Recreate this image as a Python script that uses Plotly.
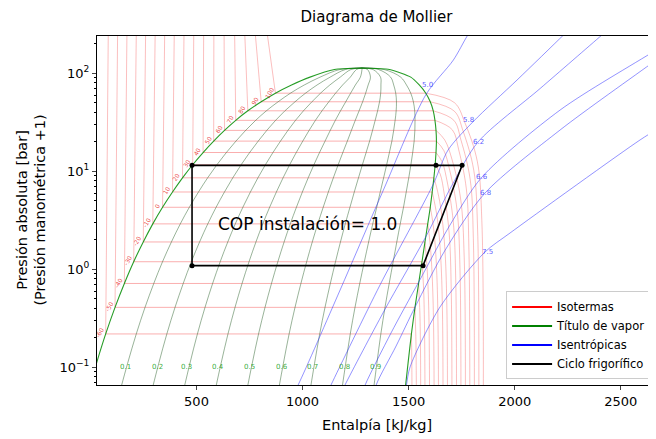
import math
import plotly.graph_objects as go

# ---------------- data ----------------
# saturation curve (triple point ... critical point)
T_sat = [-77.7, -70, -60, -50, -40, -30, -20, -10, 0, 10, 20, 30, 40, 50, 60, 70, 80, 90, 100, 110, 120, 130, 132.25]
P_sat = [0.0609, 0.109, 0.219, 0.409, 0.717, 1.195, 1.901, 2.907, 4.294, 6.150, 8.575, 11.67, 15.55,
         20.33, 26.15, 33.12, 41.42, 51.21, 62.68, 76.0, 91.4, 109.3, 113.3]
h_liq = [-6, 28, 72, 116, 160, 204, 249, 294, 340, 387, 434, 482, 531, 581, 632, 685, 742, 805, 872, 948, 1035, 1150, 1280]
h_vap = [1484, 1497, 1513, 1530, 1547, 1563, 1577, 1590, 1602, 1611, 1619, 1625, 1629, 1631, 1629, 1624, 1616,
         1602, 1581, 1550, 1510, 1410, 1280]

# isotherms (-60 ... 100 °C)
T_iso = [-60, -50, -40, -30, -20, -10, 0, 10, 20, 30, 40, 50, 60, 70, 80, 90, 100]
P_iso_sat = [0.219, 0.409, 0.717, 1.195, 1.901, 2.907, 4.294, 6.150, 8.575, 11.67, 15.55, 20.33, 26.15,
             33.12, 41.42, 51.21, 62.68]
h_iso_liq = [72, 116, 160, 204, 249, 294, 340, 387, 434, 482, 531, 581, 632, 685, 742, 805, 872]
h_iso_vap = [1513, 1530, 1547, 1563, 1577, 1590, 1602, 1611, 1619, 1625, 1629, 1631, 1629, 1624, 1616, 1602, 1581]
P_liq_top = [240, 300]
h_iso_top = [84, 128, 172, 216, 260, 305, 350, 395, 441, 487, 534, 582, 630, 680, 728, 778, 835]
# superheated branch: enthalpy at P_sat*0.8, *0.5, *0.2, *0.05 and at 0.01 bar
P_sh_frac = [0.8, 0.5, 0.2, 0.05]
P_sh_low = 0.01
h_iso_sh = [
    [1514, 1515, 1516, 1517, 1517], [1531, 1534, 1536, 1537, 1537], [1549, 1553, 1556, 1557, 1558],
    [1566, 1571, 1575, 1577, 1578], [1581, 1588, 1595, 1598, 1599], [1596, 1605, 1614, 1619, 1620],
    [1610, 1622, 1633, 1639, 1641], [1621, 1637, 1652, 1660, 1662], [1632, 1651, 1670, 1680, 1683],
    [1649, 1668, 1691, 1701, 1704], [1658, 1682, 1710, 1722, 1725], [1666, 1694, 1728, 1742, 1746],
    [1670, 1705, 1745, 1762, 1767], [1706, 1736, 1772, 1784, 1788], [1713, 1747, 1790, 1805, 1809],
    [1716, 1757, 1807, 1825, 1830], [1716, 1765, 1824, 1845, 1851],
]

# vapour quality lines
x_quality = [0.1, 0.2, 0.3, 0.4, 0.5, 0.6, 0.7, 0.8, 0.9]
x_label_h = [163, 314, 455, 601, 752, 903, 1045, 1196, 1342]
x_label_P = 0.1

# isentropes
s_values = ["5.0", "5.8", "6.2", "6.6", "6.8", "7.5"]
s_h = [
    [1808, 1776, 1711, 1582, 1381, 1177, 979, 941],
    [2302, 2230, 2011, 1804, 1686, 1615, 1365, 1134, 1101],
    [2492, 2411, 2120, 1827, 1705, 1582, 1384, 1200, 1167],
    [2893, 2667, 2214, 1846, 1695, 1549, 1417, 1295, 1271],
    [2926, 2667, 2214, 1860, 1672, 1530, 1441, 1347, 1332],
    [2940, 2667, 2591, 1978, 1860, 1648, 1507, 1490, 1483],
]
s_P = [
    [300, 240, 136.7, 60.9, 6.44, 0.615, 0.066, 0.0464],
    [350, 245.9, 85.4, 32.1, 16.5, 7.30, 0.691, 0.066, 0.0464],
    [350, 245.9, 70.0, 19.9, 7.25, 2.17, 0.375, 0.066, 0.0464],
    [350, 172.9, 42.2, 8.75, 2.83, 0.752, 0.224, 0.066, 0.0464],
    [350, 136.7, 26.4, 6.0, 1.567, 0.411, 0.165, 0.066, 0.0464],
    [53.4, 26.4, 20.9, 2.346, 1.501, 0.413, 0.101, 0.066, 0.0464],
]
s_label_h = [1587, 1780, 1827, 1845, 1860, 1870]
s_label_P = [76, 33.4, 19.9, 8.8, 6.0, 1.5]

# refrigeration cycle
cycle_h = [1568, 1752, 1629, 479, 479, 1568]
cycle_P = [1.09, 11.5, 11.5, 11.5, 1.09, 1.09]
cop_text = "COP instalación= 1.0"
cop_h, cop_P = 1021, 2.9

x_ticks = [500, 1000, 1500, 2000, 2500]
y_ticks = [0.1, 1, 10, 100]
y_ticktext = ["10<sup>\u22121</sup>", "10<sup>0</sup>", "10<sup>1</sup>", "10<sup>2</sup>"]
x_range = [31, 2666]
y_range_log = [-1.1806, 2.3806]

# ---------------- styling ----------------
RED = "rgba(240,0,0,0.32)"
GREEN_DOME = "rgba(0,140,0,0.85)"
GREEN_Q = "rgba(20,80,20,0.55)"
BLUE = "rgba(40,40,255,0.5)"
FONT = "DejaVu Sans"

fig = go.Figure()

# isotherms: liquid part
lx, ly = [], []
for i in range(len(T_iso)):
    lx += [h_iso_top[i], h_iso_top[i], h_iso_liq[i], None]
    ly += [P_liq_top[1], P_liq_top[0], P_iso_sat[i], None]
fig.add_trace(go.Scatter(x=lx, y=ly, mode="lines", line=dict(color=RED, width=0.8),
                         showlegend=False, hoverinfo="skip"))
# isotherms: two-phase part
dx, dy = [], []
for i in range(len(T_iso)):
    dx += [h_iso_liq[i], h_iso_vap[i], None]
    dy += [P_iso_sat[i], P_iso_sat[i], None]
fig.add_trace(go.Scatter(x=dx, y=dy, mode="lines", line=dict(color="rgba(240,0,0,0.4)", width=0.8),
                         showlegend=False, hoverinfo="skip"))
# isotherms: superheated part
for i in range(len(T_iso)):
    sx = [h_iso_vap[i]] + h_iso_sh[i]
    sy = [P_iso_sat[i]] + [P_iso_sat[i] * f for f in P_sh_frac] + [P_sh_low]
    fig.add_trace(go.Scatter(x=sx, y=sy, mode="lines", line=dict(color=RED, width=0.8, shape="spline"),
                             showlegend=False, hoverinfo="skip"))

# quality lines
for q in x_quality:
    qh = [hl + q * (hv - hl) for hl, hv in zip(h_liq, h_vap)]
    fig.add_trace(go.Scatter(x=qh, y=P_sat, mode="lines", line=dict(color=GREEN_Q, width=0.8, shape="spline"),
                             showlegend=False, hoverinfo="skip"))
# saturation dome
fig.add_trace(go.Scatter(x=h_liq + h_vap[::-1], y=P_sat + P_sat[::-1], mode="lines",
                         line=dict(color=GREEN_DOME, width=1.1, shape="spline", smoothing=0.6),
                         showlegend=False, hoverinfo="skip"))

# isentropes
for hs, ps in zip(s_h, s_P):
    fig.add_trace(go.Scatter(x=hs, y=ps, mode="lines", line=dict(color=BLUE, width=1.0, shape="spline", smoothing=0.8),
                             showlegend=False, hoverinfo="skip"))

# cycle
fig.add_trace(go.Scatter(x=cycle_h, y=cycle_P, mode="lines", line=dict(color="black", width=1.6),
                         showlegend=False, hoverinfo="skip"))
fig.add_trace(go.Scatter(x=cycle_h[:5], y=cycle_P[:5], mode="markers", marker=dict(color="black", size=5),
                         showlegend=False, hoverinfo="skip"))

# legend entries
for name, col in [("Isotermas", "red"), ("Título de vapor", "green"), ("Isentrópicas", "blue"),
                  ("Ciclo frigorífico", "black")]:
    fig.add_trace(go.Scatter(x=[None], y=[None], mode="lines", line=dict(color=col, width=2), name=name))

ann = []
for T, h, P in zip(T_iso, h_iso_liq, P_iso_sat):
    ann.append(dict(x=h, y=math.log10(P), text=str(T), showarrow=False, textangle=-60,
                    font=dict(size=6, color="rgba(230,0,0,0.75)", family=FONT), xshift=-6, yshift=1))
for q, h in zip(x_quality, x_label_h):
    ann.append(dict(x=h, y=math.log10(x_label_P), text=str(q), showarrow=False,
                    font=dict(size=7, color="rgba(0,150,0,0.8)", family=FONT)))
for s, h, P in zip(s_values, s_label_h, s_label_P):
    ann.append(dict(x=h, y=math.log10(P), text=s, showarrow=False,
                    font=dict(size=7, color="rgba(60,60,255,0.85)", family=FONT)))
ann.append(dict(x=cop_h, y=math.log10(cop_P), text=cop_text, showarrow=False,
                font=dict(size=17, color="black", family=FONT)))
ann.append(dict(xref="paper", yref="paper", x=-0.118, y=0.5, xanchor="center", yanchor="middle",
                text="Presión absoluta [bar]<br>(Presión manométrica +1)", textangle=-90, showarrow=False,
                font=dict(size=14.5, color="black", family=FONT)))
ann.append(dict(xref="paper", yref="paper", x=0.5, y=-0.115, xanchor="center", yanchor="middle",
                text="Entalpía [kJ/kg]", showarrow=False, font=dict(size=14.5, color="black", family=FONT)))

minor_vals = [m * 10 ** e for e in range(-2, 3) for m in range(2, 10)]

# the page body adds an 8px offset; the figure is sized so the axes land where the reference has them
fig.update_layout(
    width=648, height=431,
    margin=dict(l=89, r=0, t=28, b=54),
    paper_bgcolor="white", plot_bgcolor="white",
    font=dict(family=FONT, size=13, color="black"),
    title=dict(text="Diagrama de Mollier", x=0.5, xref="paper", y=1 - 9 / 431, yanchor="middle",
               font=dict(size=15, family=FONT)),
    annotations=ann,
    legend=dict(x=0.993, y=0.016, xanchor="right", yanchor="bottom", bgcolor="rgba(255,255,255,0.85)",
                bordercolor="#cccccc", borderwidth=1, font=dict(size=11.5, family=FONT), itemwidth=40,
                tracegroupgap=0),
)
fig.update_xaxes(range=x_range, tickvals=x_ticks, ticks="outside", ticklen=4, showgrid=False, zeroline=False,
                 showline=True, mirror=True, linecolor="black", linewidth=1, tickfont=dict(size=13))
fig.update_yaxes(type="log", range=y_range_log, tickvals=y_ticks, ticktext=y_ticktext, ticks="outside",
                 ticklen=4, showgrid=False, zeroline=False, showline=True, mirror=True, linecolor="black",
                 linewidth=1, tickfont=dict(size=13),
                 minor=dict(tickvals=minor_vals, ticks="outside", ticklen=2, tickcolor="black", showgrid=False))

fig.write_html("out.html")
